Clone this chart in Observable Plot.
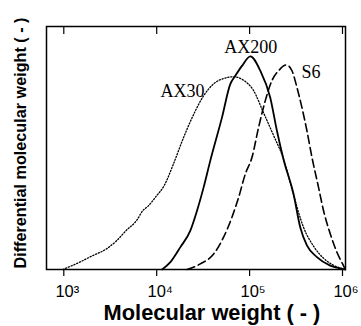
<!DOCTYPE html>
<html>
<head>
<meta charset="utf-8">
<script src="https://cdn.jsdelivr.net/npm/d3@7"></script>
<script src="https://cdn.jsdelivr.net/npm/@observablehq/plot@0.6"></script>
<style>
  html, body { margin: 0; padding: 0; background: #fff; }
</style>
</head>
<body>
<div id="chart"></div>
<script>
// log10(molecular weight) and differential molecular weight (arbitrary units, 0..1)
const ax30Lg = [2.99, 3.17, 3.30, 3.46, 3.57, 3.67, 3.79, 3.85, 3.90, 4.00, 4.08, 4.18, 4.29, 4.40, 4.50, 4.61, 4.72, 4.83, 4.93, 5.04, 5.15, 5.26, 5.37, 5.47, 5.58, 5.69, 5.80, 5.90, 6.01];
const ax30V  = [0.000, 0.030, 0.055, 0.085, 0.119, 0.160, 0.205, 0.242, 0.258, 0.304, 0.345, 0.434, 0.544, 0.640, 0.712, 0.763, 0.786, 0.793, 0.780, 0.738, 0.645, 0.550, 0.450, 0.311, 0.174, 0.095, 0.045, 0.018, 0.002];

const ax200Lg = [4.058, 4.147, 4.255, 4.362, 4.434, 4.505, 4.577, 4.703, 4.792, 4.846, 4.918, 5.008, 5.115, 5.222, 5.294, 5.366, 5.473, 5.545, 5.617, 5.725, 5.868, 6.01, 6.03];
const ax200V  = [0.000, 0.030, 0.092, 0.160, 0.242, 0.338, 0.448, 0.626, 0.763, 0.797, 0.838, 0.877, 0.818, 0.708, 0.571, 0.452, 0.311, 0.174, 0.099, 0.051, 0.016, 0.002, 0.000];

const s6Lg = [4.327, 4.47, 4.613, 4.72, 4.81, 4.882, 4.954, 5.026, 5.097, 5.169, 5.24, 5.312, 5.395, 5.456, 5.51, 5.563, 5.617, 5.671, 5.742, 5.796, 5.868, 5.94, 6.01, 6.03];
const s6V  = [0.000, 0.023, 0.064, 0.133, 0.215, 0.297, 0.393, 0.462, 0.585, 0.695, 0.777, 0.818, 0.842, 0.818, 0.749, 0.667, 0.571, 0.462, 0.338, 0.242, 0.147, 0.071, 0.016, 0.000];

const xTicks = [1e3, 1e4, 1e5, 1e6];
const xTickLabels = ["10\u00B3", "10\u2074", "10\u2075", "10\u2076"];

const labelNames = ["AX200", "AX30", "S6"];
const labelLg = [5.013, 4.278, 5.661];
const labelV = [0.893, 0.708, 0.790];

const xTitle = "Molecular weight ( - )";
const yTitle = "Differential molecular weight ( - )";

const toRows = (lg, v) => lg.map((d, i) => ({mw: Math.pow(10, d), v: v[i]}));
const ax30 = toRows(ax30Lg, ax30V);
const ax200 = toRows(ax200Lg, ax200V);
const s6 = toRows(s6Lg, s6V);
const labels = labelNames.map((n, i) => ({name: n, mw: Math.pow(10, labelLg[i]), v: labelV[i]}));
const tickRows = xTicks.map((t, i) => ({mw: t, label: xTickLabels[i]}));

const sans = "'Liberation Sans', Arial, Helvetica, sans-serif";
const serif = "'Liberation Serif', 'Times New Roman', serif";

const chart = Plot.plot({
  width: 361,
  height: 326,
  marginLeft: 46,
  marginRight: 16,
  marginTop: 26,
  marginBottom: 57,
  style: {background: "#fff", color: "#000"},
  x: {type: "log", domain: [Math.pow(10, 2.8138), Math.pow(10, 6.0323)], axis: null},
  y: {domain: [0, 1], axis: null},
  marks: [
    Plot.line(ax30, {x: "mw", y: "v", stroke: "#000", strokeWidth: 1.3, strokeDasharray: "1.2,1.8", curve: "monotone-x"}),
    Plot.line(ax200, {x: "mw", y: "v", stroke: "#000", strokeWidth: 1.8, curve: "monotone-x"}),
    Plot.line(s6, {x: "mw", y: "v", stroke: "#000", strokeWidth: 1.6, strokeDasharray: "8,4", curve: "monotone-x"}),
    Plot.frame({stroke: "#000", strokeWidth: 1.5}),
    Plot.axisX({
      anchor: "bottom", ticks: xTicks, tickSize: 7, tickFormat: () => "", label: null,
      strokeWidth: 1.2
    }),
    Plot.axisX({
      anchor: "top", ticks: xTicks, tickSize: 7, tickFormat: () => "", label: null,
      dy: 7, strokeWidth: 1.2
    }),
    Plot.text(tickRows, {x: "mw", text: "label", frameAnchor: "bottom", lineAnchor: "bottom", textAnchor: "middle", dy: 27, dx: 3.5, fontSize: 16.5, fontFamily: sans, fill: "#000"}),
    Plot.text(labels, {x: "mw", y: "v", text: "name", fontFamily: serif, fontSize: 18, textAnchor: "middle", lineAnchor: "bottom", fill: "#000"}),
    Plot.text([xTitle], {text: (d) => d, frameAnchor: "bottom", lineAnchor: "bottom", textAnchor: "middle", dy: 50.5, dx: 16, fontSize: 21.8, fontWeight: "bold", fontFamily: sans, fill: "#000"}),
    Plot.text([yTitle], {text: (d) => d, frameAnchor: "left", lineAnchor: "top", textAnchor: "middle", rotate: -90, dx: -32, dy: -5, fontSize: 16.2, fontWeight: "bold", fontFamily: sans, fill: "#000"})
  ]
});

document.getElementById("chart").appendChild(chart);
</script>
</body>
</html>
